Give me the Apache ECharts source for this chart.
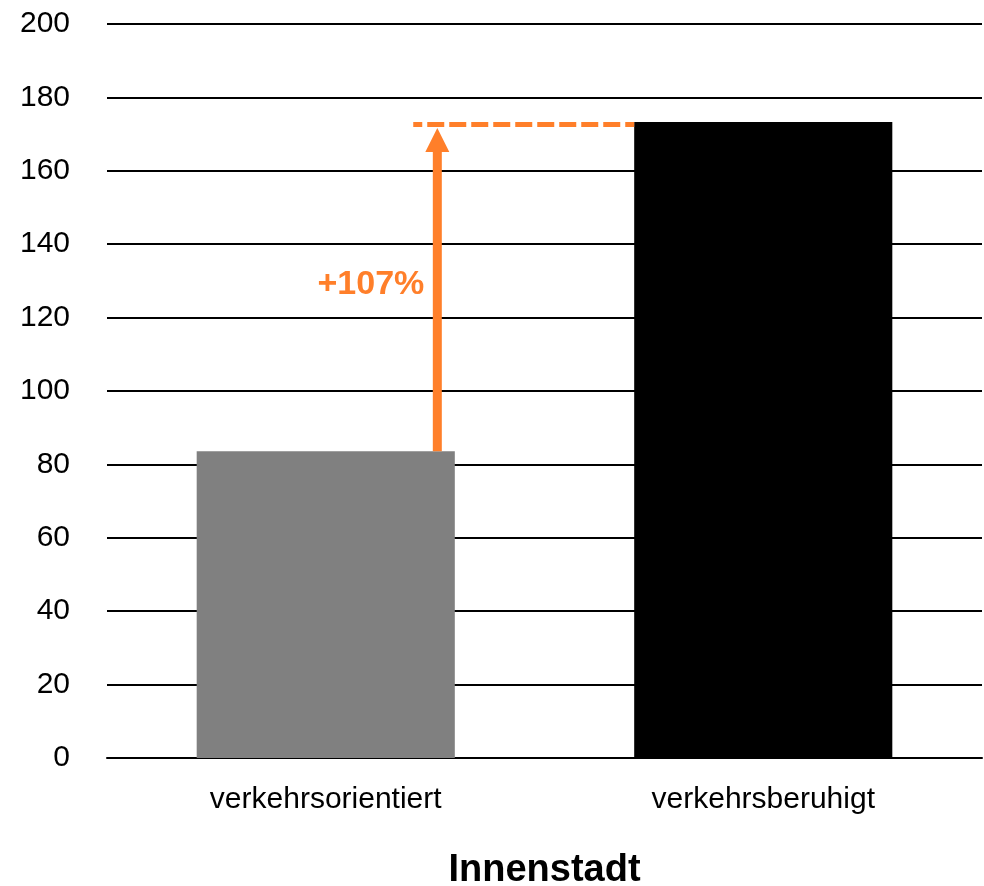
<!DOCTYPE html>
<html lang="de">
<head>
  <meta charset="UTF-8">
  <title>Innenstadt</title>
  <script src="https://cdn.jsdelivr.net/npm/echarts@6/dist/echarts.min.js"></script>
  <style>
    html, body { margin: 0; padding: 0; background: #fff; }
    #main { width: 984px; height: 886px; }
  </style>
</head>
<body>
<div id="main"></div>
<script type="text/javascript">
  // Daten
  var categories = ['verkehrsorientiert', 'verkehrsberuhigt'];
  var values = [83.6, 173.3];
  var barColors = ['#808080', '#000000'];
  var changeLabel = '+107%';
  var orange = '#FF7F2A';

  var chart = echarts.init(document.getElementById('main'));

  // Pfeil + gestrichelte Linie zwischen den Balken
  function renderArrow(params, api) {
    var band = api.size([1, 0])[0];
    var p0 = api.coord([0, values[0]]);
    var p1 = api.coord([0, values[1]]);
    var p2 = api.coord([1, values[1]]);
    var ax = p0[0] + band * 0.255;
    var dashStart = p0[0] + band * 0.2;
    var dashEnd = p2[0] - band * 0.295;
    var headH = 24, headW = 24;
    return {
      type: 'group',
      children: [
        {
          type: 'line',
          shape: { x1: dashStart, y1: p1[1] + 2.5, x2: dashEnd, y2: p1[1] + 2.5 },
          style: { stroke: orange, lineWidth: 5, lineDash: [17, 5], lineDashOffset: 8 }
        },
        {
          type: 'line',
          shape: { x1: ax, y1: p0[1], x2: ax, y2: p1[1] + 6 + headH },
          style: { stroke: orange, lineWidth: 9 }
        },
        {
          type: 'polygon',
          shape: { points: [[ax, p1[1] + 6], [ax - headW / 2, p1[1] + 6 + headH], [ax + headW / 2, p1[1] + 6 + headH]] },
          style: { fill: orange }
        },
        {
          type: 'text',
          x: ax - 13,
          y: api.coord([0, 129])[1],
          style: {
            text: changeLabel,
            fill: orange,
            font: 'bold 34px "Liberation Sans", Arial, sans-serif',
            align: 'right',
            verticalAlign: 'middle'
          }
        }
      ]
    };
  }

  var option = {
    animation: false,
    textStyle: { fontFamily: '"Liberation Sans", Arial, sans-serif' },
    grid: { left: 107, right: 2, top: 24, bottom: 128, outerBoundsMode: 'none', containLabel: false },
    xAxis: {
      type: 'category',
      data: categories,
      name: 'Innenstadt',
      nameLocation: 'middle',
      nameGap: 94,
      nameTextStyle: { fontSize: 38, fontWeight: 'bold', color: '#000' },
      axisLine: { lineStyle: { color: '#000', width: 2 } },
      axisTick: { show: false },
      axisLabel: { fontSize: 30, color: '#000', margin: 27 }
    },
    yAxis: {
      type: 'value',
      min: 0,
      max: 200,
      interval: 20,
      axisLine: { show: false },
      axisTick: { show: false },
      axisLabel: { fontSize: 30, color: '#000', margin: 37 },
      splitLine: { lineStyle: { color: '#000', width: 2 } }
    },
    series: [
      {
        type: 'bar',
        barWidth: '59%',
        data: values.map(function (v, i) {
          return { value: v, itemStyle: { color: barColors[i] } };
        })
      },
      {
        type: 'custom',
        renderItem: function (params, api) {
          return renderArrow(params, api);
        },
        data: [[0, values[0]]],
        z: 5
      }
    ]
  };

  chart.setOption(option);
</script>
</body>
</html>
